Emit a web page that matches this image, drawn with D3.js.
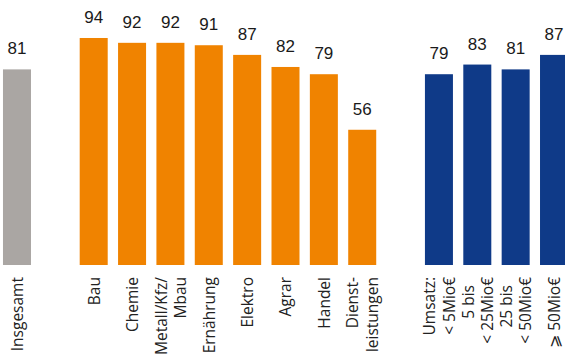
<!DOCTYPE html>
<html>
<head>
<meta charset="utf-8">
<script src="https://cdn.jsdelivr.net/npm/d3@7"></script>
<style>
  html, body { margin: 0; padding: 0; background: #ffffff; }
  svg { display: block; }
</style>
</head>
<body>
<svg id="chart" width="565" height="356"></svg>
<script>
// ---- Data ----
const totalCategories = ["Insgesamt"];
const totalValues = [81];

const branchCategories = ["Bau", "Chemie", "Metall/Kfz/\nMbau", "Ernährung", "Elektro", "Agrar", "Handel", "Dienst-\nleistungen"];
const branchValues = [94, 92, 92, 91, 87, 82, 79, 56];

const revenueCategories = ["Umsatz:\n< 5Mio€", "5 bis\u00a0\u00a0\n< 25Mio€", "25 bis\u00a0\u00a0\n< 50Mio€", "⩾ 50Mio€"];
const revenueValues = [79, 83, 81, 87];

const groupColors = ["#aaa6a3", "#f08300", "#0f3a88"];

// ---- Build rows ----
const groups = [
  { cats: totalCategories, vals: totalValues, color: groupColors[0] },
  { cats: branchCategories, vals: branchValues, color: groupColors[1] },
  { cats: revenueCategories, vals: revenueValues, color: groupColors[2] }
];
const rows = [];
const slots = [];
groups.forEach((g, gi) => {
  if (gi > 0) slots.push("__gap" + gi);
  g.cats.forEach((c, i) => {
    rows.push({ key: c, value: g.vals[i], color: g.color });
    slots.push(c);
  });
});

const svg = d3.select("#chart");

const x = d3.scaleBand()
  .domain(slots)
  .range([-2.2, 573.2])
  .paddingInner(0.27)
  .paddingOuter(0.135);

const y = d3.scaleLinear().domain([0, 100]).range([265, 23.5]);

// Bars
svg.append("g").selectAll("rect")
  .data(rows)
  .join("rect")
  .attr("x", d => x(d.key))
  .attr("width", x.bandwidth())
  .attr("y", d => y(d.value))
  .attr("height", d => y(0) - y(d.value))
  .attr("fill", d => d.color);

// Value labels
svg.append("g").selectAll("text")
  .data(rows)
  .join("text")
  .attr("x", d => x(d.key) + x.bandwidth() / 2)
  .attr("y", d => y(d.value) - 15)
  .attr("text-anchor", "middle")
  .attr("font-family", "'Liberation Sans', Arial, sans-serif")
  .attr("font-size", 17)
  .attr("fill", "#1a1a1a")
  .text(d => d.value);

// Category labels (rotated)
const labels = svg.append("g").selectAll("text")
  .data(rows)
  .join("text")
  .attr("transform", d => `translate(${x(d.key) + x.bandwidth() / 2},277) rotate(-90)`)
  .attr("text-anchor", "end")
  .attr("font-family", "'Open Sans', 'Noto Sans', sans-serif")
  .attr("font-size", 15.5)
  .attr("fill", "#222222");

labels.each(function(d) {
  const lines = d.key.split("\n");
  const n = lines.length;
  const t = d3.select(this);
  lines.forEach((ln, i) => {
    t.append("tspan")
      .attr("x", 0)
      .attr("y", (0.38 + (i - (n - 1) / 2) * 1.25) + "em")
      .text(ln);
  });
});
</script>
</body>
</html>
